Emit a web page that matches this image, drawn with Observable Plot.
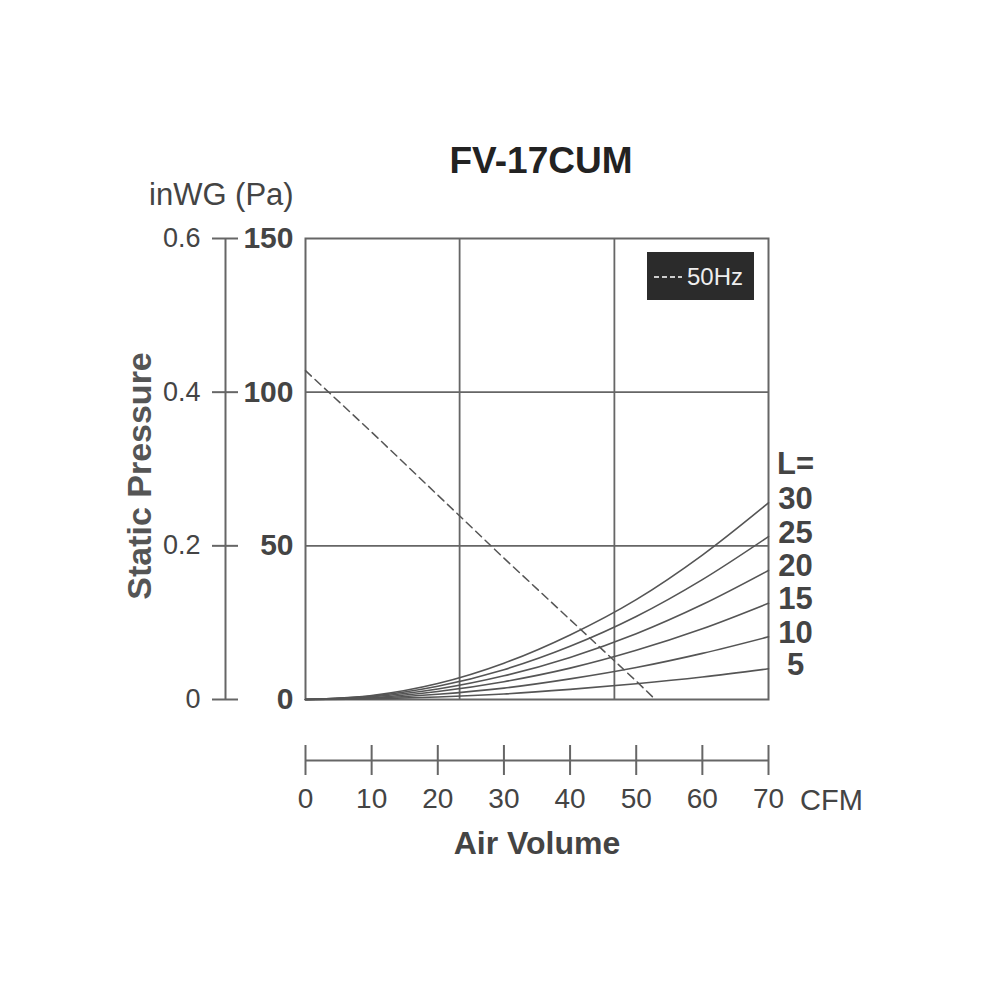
<!DOCTYPE html>
<html>
<head>
<meta charset="utf-8">
<script src="https://cdn.jsdelivr.net/npm/d3@7"></script>
<script src="https://cdn.jsdelivr.net/npm/@observablehq/plot@0.6"></script>
<style>
  html, body { margin: 0; padding: 0; background: #fff; }
  #chart { position: relative; width: 1000px; height: 1000px; }
</style>
</head>
<body>
<div id="chart"></div>
<script>
// ---- data ----
const title = "FV-17CUM";
const cfmTicks = [0, 10, 20, 30, 40, 50, 60, 70];
const paTicks = [0, 50, 100, 150];
const inwgLabels = ["0", "0.2", "0.4", "0.6"];
const gridCfm = [23.3, 46.7];
const gridPa = [50, 100];

// System resistance curves (Pa) at curveCfm, duct length L
const curveCfm = [0, 10, 20, 30, 40, 50, 60, 70];
const L30 = [0, 1.3, 5.2, 11.8, 21, 32.5, 47, 64];
const L25 = [0, 1.1, 4.3, 9.7, 17.3, 27, 39, 53];
const L20 = [0, 0.9, 3.4, 7.7, 13.7, 21.4, 30.9, 42];
const L15 = [0, 0.6, 2.6, 5.8, 10.2, 16, 23, 31.3];
const L10 = [0, 0.4, 1.7, 3.7, 6.7, 10.4, 15, 20.4];
const L5  = [0, 0.2, 0.8, 1.8, 3.3, 5.1, 7.3, 10];
const lengths = [30, 25, 20, 15, 10, 5];
const series = [L30, L25, L20, L15, L10, L5];

// Fan curve 50Hz (dashed)
const fanCfm = [0, 10, 20, 30, 40, 50, 52.5];
const fanPa  = [107, 87, 66.5, 46, 26, 6, 0.8];
const legendLabel = "50Hz";

// ---- build tables ----
const curveRows = [];
lengths.forEach((L, k) => curveCfm.forEach((c, i) => curveRows.push({L, cfm: c, pa: series[k][i]})));
const endRows = lengths.map((L, k) => ({L, cfm: curveCfm[curveCfm.length - 1], pa: series[k][series[k].length - 1]}));
const fanRows = fanCfm.map((c, i) => ({cfm: c, pa: fanPa[i]}));

const ink = "#666";
const font = "'Liberation Sans', Arial, Helvetica, sans-serif";

const plot = Plot.plot({
  width: 1000,
  height: 1000,
  marginLeft: 305,
  marginRight: 232,
  marginTop: 238,
  marginBottom: 301,
  style: {fontFamily: font, background: "#fff", overflow: "visible"},
  x: {domain: [0, 70]},
  y: {domain: [0, 150]},
  marks: [
    // grid
    Plot.ruleX(gridCfm, {stroke: ink, strokeWidth: 1.8}),
    Plot.ruleY(gridPa, {stroke: ink, strokeWidth: 1.8}),
    Plot.frame({stroke: ink, strokeWidth: 2}),
    // left Pa axis line + cross ticks
    Plot.ruleX([0], {y1: 0, y2: 150, dx: -80, stroke: ink, strokeWidth: 2}),
    Plot.axisY({ticks: paTicks, tickSize: 26, dx: -67, tickFormat: () => "", stroke: ink, strokeWidth: 2, label: null}),
    // Pa labels
    Plot.axisY({ticks: paTicks, tickSize: 0, tickPadding: 12, fontSize: 30, fontWeight: "bold", fill: "#444", label: null}),
    // inWG labels
    Plot.axisY({ticks: paTicks, tickSize: 0, tickPadding: 105, fontSize: 27, fill: "#444", label: null,
      tickFormat: d => inwgLabels[paTicks.indexOf(d)]}),
    // bottom CFM axis
    Plot.ruleY([0], {x1: 0, x2: 70, dy: 61, stroke: ink, strokeWidth: 2}),
    Plot.axisX({ticks: cfmTicks, tickSize: 30, dy: 46, tickFormat: () => "", stroke: ink, strokeWidth: 2, label: null}),
    Plot.axisX({ticks: cfmTicks, tickSize: 0, tickPadding: 89, fontSize: 28, fill: "#444", label: null}),
    // resistance curves
    Plot.line(curveRows, {x: "cfm", y: "pa", z: "L", stroke: "#555", strokeWidth: 1.6, curve: "monotone-x"}),
    // fan curve
    Plot.line(fanRows, {x: "cfm", y: "pa", stroke: "#555", strokeWidth: 1.5, strokeDasharray: "8,5"}),
    // L labels
    Plot.text(endRows, {x: "cfm", y: "pa", text: d => String(d.L), dx: 27, dy: -4, fontSize: 31, fontWeight: "bold", fill: "#444"}),
    Plot.text(endRows.slice(0, 1), {x: "cfm", y: "pa", text: () => "L=", dx: 27, dy: -39, fontSize: 31, fontWeight: "bold", fill: "#444"})
  ]
});

document.getElementById("chart").appendChild(plot);

// ---- titles, axis labels, legend ----
const svg = d3.select(plot);
svg.append("text").attr("x", 541).attr("y", 173).attr("text-anchor", "middle")
  .attr("font-family", font).attr("font-size", 37).attr("font-weight", "bold").attr("fill", "#222").text(title);
svg.append("text").attr("x", 149).attr("y", 205).attr("text-anchor", "start")
  .attr("font-family", font).attr("font-size", 31).attr("fill", "#444").text("inWG (Pa)");
svg.append("text").attr("transform", "translate(151,476) rotate(-90)").attr("text-anchor", "middle")
  .attr("font-family", font).attr("font-size", 34).attr("font-weight", "bold").attr("fill", "#555").text("Static Pressure");
svg.append("text").attr("x", 537).attr("y", 854).attr("text-anchor", "middle")
  .attr("font-family", font).attr("font-size", 32).attr("font-weight", "bold").attr("fill", "#444").text("Air Volume");
svg.append("text").attr("x", 800).attr("y", 810).attr("text-anchor", "start")
  .attr("font-family", font).attr("font-size", 29).attr("fill", "#444").text("CFM");

const lg = svg.append("g");
lg.append("rect").attr("x", 647).attr("y", 252).attr("width", 107).attr("height", 48).attr("fill", "#2b2b2b");
lg.append("line").attr("x1", 654).attr("x2", 682).attr("y1", 277).attr("y2", 277)
  .attr("stroke", "#ccc").attr("stroke-width", 2).attr("stroke-dasharray", "5,3");
lg.append("text").attr("x", 687).attr("y", 285).attr("text-anchor", "start").attr("font-family", font).attr("font-size", 24)
  .attr("fill", "#eee").text(legendLabel);
</script>
</body>
</html>
